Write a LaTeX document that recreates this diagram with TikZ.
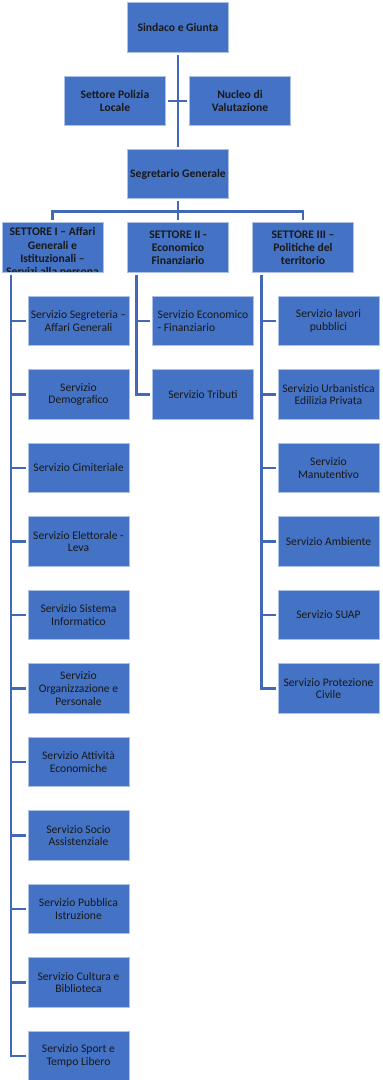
\documentclass[tikz,border=0pt]{standalone}
\usepackage{fontspec}
\setmainfont{Carlito}
\usetikzlibrary{positioning}
\definecolor{boxblue}{HTML}{4472C4}
\definecolor{lineblue}{HTML}{4169B8}

\begin{document}
\begin{tikzpicture}[
		node distance=19pt,
		unit/.style={fill=boxblue, draw=boxblue!45!white, line width=0.6pt, minimum width=101pt, minimum height=49.5pt, inner sep=0.5pt, outer sep=2.5pt, align=center, text=black!90, font=\fontsize{11.6}{12.8}\selectfont},
		head/.style={unit, font=\fontsize{11.6}{13.2}\selectfont\bfseries},
		link/.style={draw=lineblue, line width=2.7pt},
	]
		\useasboundingbox (0,0) rectangle (383pt,-1080pt);

		\node (sindaco) [head] at (178pt,-27.5pt) {Sindaco e Giunta};
		\node (polizia) [head] at (115pt,-101pt) {Settore Polizia\\Locale};
		\node (nucleo) [head] at (240pt,-101pt) {Nucleo di\\Valutazione};
		\node (segretario) [head] at (178pt,-174pt) {Segretario Generale};

		\draw[link] (sindaco) -- (segretario);
		\draw[link] (polizia) -- (nucleo);

		\node (set1) [head, path picture={
			\node (set1 text) [anchor=north, inner sep=0pt, align=center] at ([yshift=-2.5pt]path picture bounding box.north) {SETTORE I – Affari\\Generali e\\Istituzionali –\\Servizi alla persona};
		}] at (52.5pt,-247.5pt) {};
		\node (set2) [head] at (178pt,-247.5pt) {SETTORE II -\\Economico\\Finanziario};
		\node (set3) [head] at (303pt,-247.5pt) {SETTORE III –\\Politiche del\\territorio};

		\coordinate (bus) at ([yshift=-10pt]segretario.south);
		\draw[link] (segretario) -- (bus);
		\draw[link] (bus) -| (set1);
		\draw[link] (bus) -| (set2);
		\draw[link] (bus) -| (set3);

		% settore I
		\node (srv segreteria) [unit, below=of set1, xshift=26pt] {Servizio Segreteria –\\Affari Generali};
		\node (srv demografico) [unit, below=of srv segreteria] {Servizio\\Demografico};
		\node (srv cimiteriale) [unit, below=of srv demografico] {Servizio Cimiteriale};
		\node (srv elettorale) [unit, below=of srv cimiteriale] {Servizio Elettorale -\\Leva};
		\node (srv informatico) [unit, below=of srv elettorale] {Servizio Sistema\\Informatico};
		\node (srv personale) [unit, below=of srv informatico] {Servizio\\Organizzazione e\\Personale};
		\node (srv attivita) [unit, below=of srv personale] {Servizio Attività\\Economiche};
		\node (srv socio) [unit, below=of srv attivita] {Servizio Socio\\Assistenziale};
		\node (srv istruzione) [unit, below=of srv socio] {Servizio Pubblica\\Istruzione};
		\node (srv cultura) [unit, below=of srv istruzione] {Servizio Cultura e\\Biblioteca};
		\node (srv sport) [unit, below=of srv cultura] {Servizio Sport e\\Tempo Libero};

		\coordinate (trunk1) at ([xshift=11.5pt]set1.south west);
		\foreach \srv in {segreteria, demografico, cimiteriale, elettorale, informatico, personale, attivita, socio, istruzione, cultura, sport}
			\draw[link] (trunk1) |- (srv \srv.west);

		% settore II
		\node (srv economico) [unit, align=left, below=of set2, xshift=25pt] {Servizio Economico\\- Finanziario};
		\node (srv tributi) [unit, below=of srv economico] {Servizio Tributi};

		\coordinate (trunk2) at ([xshift=11.5pt]set2.south west);
		\foreach \srv in {economico, tributi}
			\draw[link] (trunk2) |- (srv \srv.west);

		% settore III
		\node (srv lavori) [unit, below=of set3, xshift=25.5pt] {Servizio lavori\\pubblici};
		\node (srv urbanistica) [unit, below=of srv lavori] {Servizio Urbanistica\\Edilizia Privata};
		\node (srv manutentivo) [unit, below=of srv urbanistica] {Servizio\\Manutentivo};
		\node (srv ambiente) [unit, below=of srv manutentivo] {Servizio Ambiente};
		\node (srv suap) [unit, below=of srv ambiente] {Servizio SUAP};
		\node (srv protezione) [unit, below=of srv suap] {Servizio Protezione\\Civile};

		\coordinate (trunk3) at ([xshift=11.5pt]set3.south west);
		\foreach \srv in {lavori, urbanistica, manutentivo, ambiente, suap, protezione}
			\draw[link] (trunk3) |- (srv \srv.west);
	\end{tikzpicture}
\end{document}
